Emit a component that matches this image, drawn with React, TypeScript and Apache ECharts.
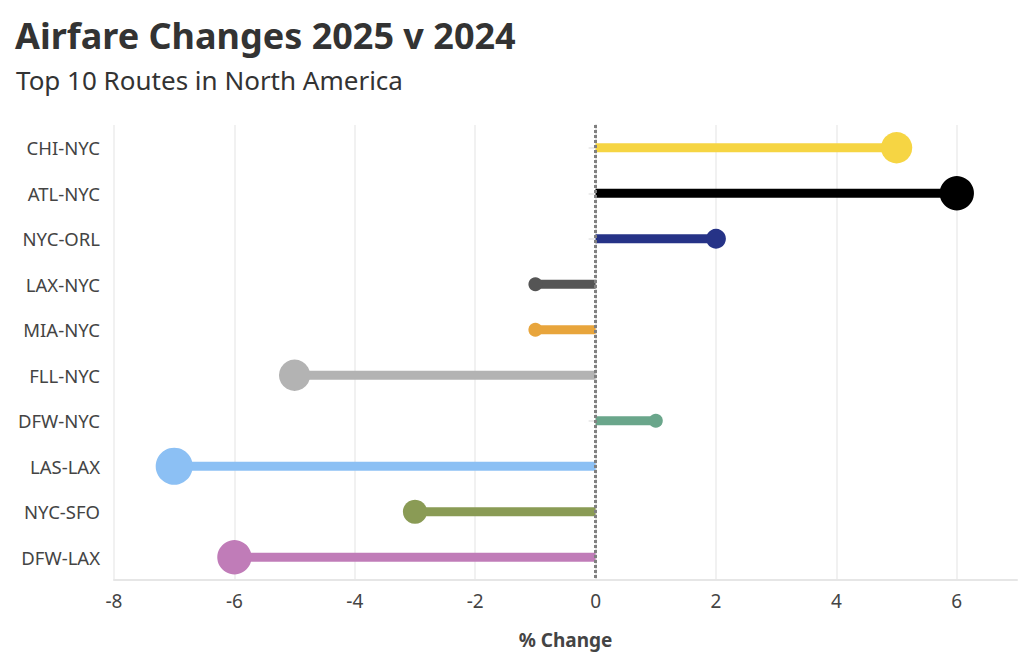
import React, { useEffect, useRef } from "react";
import * as echarts from "echarts";

const routes = ["CHI-NYC", "ATL-NYC", "NYC-ORL", "LAX-NYC", "MIA-NYC", "FLL-NYC", "DFW-NYC", "LAS-LAX", "NYC-SFO", "DFW-LAX"];
const changes = [5, 6, 2, -1, -1, -5, 1, -7, -3, -6];
const colors = ["#f6d543", "#000000", "#263387", "#555555", "#e8a53c", "#b3b3b3", "#6aa68b", "#8cc0f4", "#8a9b55", "#c07cb8"];
const xMin = -8;
const xMax = 7;
const xStep = 2;

const FONT = "Noto Sans";

export default function App() {
  const ref = useRef<HTMLDivElement>(null);
  useEffect(() => {
    if (!ref.current) return;
    const chart = echarts.init(ref.current, null, { renderer: "svg" });
    chart.setOption({
      animation: false,
      backgroundColor: "#ffffff",
      textStyle: { fontFamily: FONT },
      title: [
        {
          text: "Airfare Changes 2025 v 2024",
          left: 10,
          top: 12,
          textStyle: { fontFamily: FONT, fontSize: 36, fontWeight: "bold", color: "#333333" },
        },
        {
          text: "Top 10 Routes in North America",
          left: 11,
          top: 62,
          textStyle: { fontFamily: FONT, fontSize: 26, fontWeight: "normal", color: "#333333" },
        },
      ],
      grid: { left: 114, right: 7, top: 125, bottom: 80, containLabel: false },
      xAxis: {
        type: "value",
        min: xMin,
        max: xMax,
        interval: xStep,
        name: "% Change",
        nameLocation: "middle",
        nameGap: 50,
        nameTextStyle: { fontFamily: FONT, fontSize: 19, fontWeight: "bold", color: "#444444" },
        axisLine: { show: true, lineStyle: { color: "#e6e6e6", width: 2 } },
        axisTick: { show: false },
        axisLabel: {
          fontFamily: FONT,
          fontSize: 19,
          color: "#444444",
          margin: 11,
          formatter: (v: number) => (v === xMax ? "" : String(v)),
        },
        splitLine: { show: true, showMaxLine: false, lineStyle: { color: "#ececec", width: 1.5 } },
      },
      yAxis: {
        type: "category",
        data: routes,
        inverse: true,
        axisLine: { show: true, lineStyle: { color: "#e6e6e6", width: 2 } },
        axisTick: { show: true, length: 7, alignWithLabel: true, lineStyle: { color: "#e6e6e6", width: 1.5 } },
        axisLabel: { fontFamily: FONT, fontSize: 18.5, color: "#444444", margin: 14 },
        splitLine: { show: false },
      },
      series: [
        {
          type: "bar",
          barWidth: 9,
          data: changes.map((v, i) => ({ value: v, itemStyle: { color: colors[i] } })),
          markLine: {
            silent: true,
            symbol: "none",
            label: { show: false },
            lineStyle: { type: [3, 2], color: "#808080", width: 3 },
            data: [{ xAxis: 0 }],
          },
          z: 2,
        },
        {
          type: "scatter",
          data: changes.map((v, i) => ({ value: [v, i], itemStyle: { color: colors[i], opacity: 1 } })),
          symbolSize: (val: number[]) => 14 * Math.sqrt(Math.abs(val[0])),
          z: 3,
        },
      ],
    });
    return () => chart.dispose();
  }, []);
  return (
    <div
      ref={ref}
      style={{ position: "absolute", left: 0, top: 0, width: 1024, height: 660 }}
    />
  );
}
